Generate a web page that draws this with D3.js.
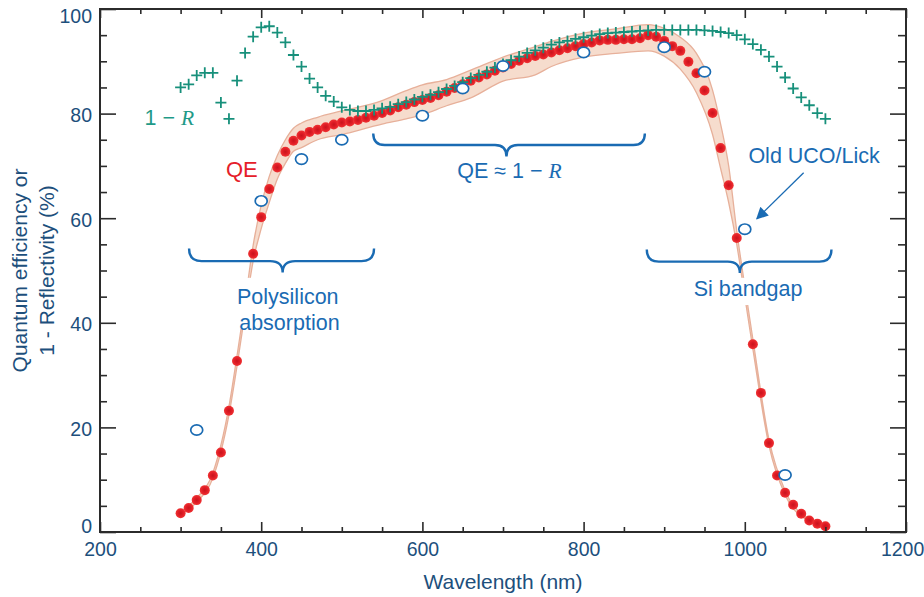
<!DOCTYPE html>
<html>
<head>
<meta charset="utf-8">
<script src="https://cdn.jsdelivr.net/npm/d3@7"></script>
<style>
  body { margin: 0; background: #fff; }
  svg { display: block; }
  text { font-family: "Liberation Sans", Arial, sans-serif; }
</style>
</head>
<body>
<div id="chart"></div>
<script>
// Wavelength grid for the QE and 1-R measurements (nm)
var wavelengths = d3.range(300, 1101, 10);

// Measured quantum efficiency (%), one per wavelength
var qeValues = [
    3.6, 4.6, 6.1, 8.0, 10.8, 15.2, 23.2, 32.7, 43.0, 53.2,
    60.2, 65.6, 69.7, 72.7, 74.8, 75.8, 76.5, 76.9, 77.4, 77.9,
    78.3, 78.5, 78.8, 79.2, 79.6, 80.1, 80.6, 81.2, 81.7, 82.2,
    82.6, 83.0, 83.5, 84.2, 84.9, 85.6, 86.3, 86.9, 87.5, 88.2,
    88.8, 89.5, 90.1, 90.6, 91.0, 91.3, 91.7, 92.1, 92.5, 92.9,
    93.3, 93.6, 94.0, 94.1, 94.1, 94.2, 94.2, 94.4, 95.0, 94.7,
    93.9, 92.9, 92.0, 89.9, 87.7, 84.4, 80.1, 73.4, 66.3, 56.2,
    46.0, 35.9, 26.6, 17.0, 10.8, 7.5, 5.2, 3.5, 2.2, 1.6,
    1.1
];

// 1 - reflectivity (%), one per wavelength
var oneMinusR = [
    85.0, 85.6, 87.3, 87.8, 87.8, 82.1, 79.0, 86.3, 91.6, 94.7,
    96.5, 96.7, 95.5, 93.6, 91.2, 89.0, 86.7, 85.0, 83.4, 82.3,
    81.2, 80.7, 80.5, 80.5, 80.7, 81.0, 81.3, 81.8, 82.2, 82.7,
    83.2, 83.6, 84.1, 84.7, 85.3, 86.0, 86.8, 87.4, 88.0, 88.8,
    89.5, 90.2, 90.9, 91.6, 92.1, 92.6, 93.2, 93.6, 93.9, 94.3,
    94.6, 94.9, 95.2, 95.4, 95.5, 95.6, 95.7, 95.8, 95.9, 96.0,
    96.0, 96.0, 96.0, 96.0, 96.0, 95.9, 95.8, 95.6, 95.4, 95.0,
    94.2, 93.3, 92.2, 90.9, 89.0, 86.9, 84.8, 83.1, 81.6, 80.1,
    79.0
];

// Uncertainty band around the QE curve
var bandWavelengths = [300, 320, 340, 360, 370, 380, 390, 400, 410, 420, 430, 440, 450, 470, 500, 550, 580, 600, 630, 660, 700, 740, 760, 800, 840, 880, 900, 920, 940, 960, 970, 980, 990, 1000, 1010, 1030, 1050, 1080, 1100];
var bandUpper = [3.9, 6.5, 11.3, 24.0, 33.7, 44.0, 54.8, 62.5, 68.0, 72.0, 75.0, 77.2, 78.2, 79.3, 80.5, 82.5, 84.4, 85.5, 86.5, 88.3, 90.8, 92.8, 93.8, 95.4, 96.2, 97.0, 96.3, 94.6, 91.5, 84.5, 78.0, 70.0, 57.6, 47.0, 36.9, 17.7, 7.9, 2.5, 1.3];
var bandLower = [3.3, 5.7, 10.3, 22.4, 31.7, 42.0, 51.8, 58.0, 63.0, 67.5, 70.5, 72.8, 73.5, 75.0, 76.0, 78.0, 79.0, 79.8, 81.5, 83.0, 86.2, 87.4, 89.0, 90.8, 91.5, 92.0, 91.0, 88.5, 84.0, 76.0, 69.5, 63.0, 55.0, 45.0, 35.0, 16.5, 7.1, 2.0, 0.9];

// Old UCO/Lick measurements
var oldWavelengths = [320, 400, 450, 500, 600, 650, 700, 800, 900, 950, 1000, 1050];
var oldValues = [19.5, 63.3, 71.3, 75.0, 79.6, 84.8, 89.1, 91.7, 92.7, 88.0, 57.9, 10.9];

// Axis ticks
var xMajorTicks = [200, 400, 600, 800, 1000, 1200];
var xMinorTicks = d3.range(250, 1200, 50).filter(function(d) { return d % 200 !== 0; });
var yMajorTicks = [0, 20, 40, 60, 80, 100];
var yMinorTicks = d3.range(5, 100, 5).filter(function(d) { return d % 20 !== 0; });

var width = 924, height = 597;
var margin = {top: 9, right: 18, bottom: 65, left: 100};

var svg = d3.select('#chart').append('svg')
    .attr('width', width)
    .attr('height', height);

var x = d3.scaleLinear().domain([200, 1200]).range([margin.left, width - margin.right]);
var y = d3.scaleLinear().domain([0, 100]).range([height - margin.bottom, margin.top]);

var blue = '#1a6bb3';
var navy = '#1d4f7c';
var red = '#e5202a';
var teal = '#17907b';

var defs = svg.append('defs');
var grad = defs.append('radialGradient').attr('id', 'dotGrad');
grad.append('stop').attr('offset', '0%').attr('stop-color', '#c8141c');
grad.append('stop').attr('offset', '55%').attr('stop-color', '#e11d26');
grad.append('stop').attr('offset', '100%').attr('stop-color', '#ef3434');

// Band around the QE points
var bandData = bandWavelengths.map(function(w, i) {
    return {w: w, hi: bandUpper[i], lo: bandLower[i]};
});
var area = d3.area()
    .x(function(d) { return x(d.w); })
    .y0(function(d) { return y(d.lo); })
    .y1(function(d) { return y(d.hi); })
    .curve(d3.curveMonotoneX);

svg.append('path')
    .datum(bandData)
    .attr('d', area)
    .attr('fill', '#f6dccd')
    .attr('stroke', '#e7b09a')
    .attr('stroke-width', 1.3);

// QE points
svg.append('g').selectAll('circle')
    .data(wavelengths)
    .enter()
    .append('circle')
    .attr('cx', function(d) { return x(d); })
    .attr('cy', function(d, i) { return y(qeValues[i]); })
    .attr('r', 5)
    .attr('fill', 'url(#dotGrad)');

// 1 - R markers
svg.append('g').selectAll('path')
    .data(wavelengths)
    .enter()
    .append('path')
    .attr('transform', function(d, i) {
        return 'translate(' + x(d) + ',' + y(oneMinusR[i]) + ')';
    })
    .attr('d', 'M-5.5,0H5.5M0,-5.5V5.5')
    .attr('stroke', teal)
    .attr('stroke-width', 1.8)
    .attr('fill', 'none');

// Old UCO/Lick points
svg.append('g').selectAll('ellipse')
    .data(oldWavelengths)
    .enter()
    .append('ellipse')
    .attr('cx', function(d) { return x(d); })
    .attr('cy', function(d, i) { return y(oldValues[i]); })
    .attr('rx', 6)
    .attr('ry', 5.2)
    .attr('fill', '#fff')
    .attr('stroke', blue)
    .attr('stroke-width', 1.7);

// Braces
function brace(w0, w1, wTip, vEnd, vMid, vTip) {
    var x0 = x(w0), x1 = x(w1), xt = x(wTip);
    var ye = y(vEnd), ym = y(vMid), yt = y(vTip);
    var r = ym - ye;
    return 'M' + x0 + ',' + ye +
        'Q' + x0 + ',' + ym + ' ' + (x0 + r) + ',' + ym +
        'L' + (xt - r) + ',' + ym +
        'Q' + xt + ',' + ym + ' ' + xt + ',' + yt +
        'Q' + xt + ',' + ym + ' ' + (xt + r) + ',' + ym +
        'L' + (x1 - r) + ',' + ym +
        'Q' + x1 + ',' + ym + ' ' + x1 + ',' + ye;
}

var annot = svg.append('g');
[[310.5, 540, 426.6, 54.2, 51.8, 49.6],
 [539, 876, 704.3, 76.2, 74.0, 71.8],
 [878.4, 1107.5, 993.8, 54.0, 51.7, 49.5]].forEach(function(b) {
    annot.append('path')
        .attr('d', brace.apply(null, b))
        .attr('fill', 'none')
        .attr('stroke', blue)
        .attr('stroke-width', 2.4);
});

// Text boxes that mask the curve
annot.append('rect')
    .attr('x', x(370)).attr('y', y(48.6))
    .attr('width', x(505) - x(370)).attr('height', y(38.8) - y(48.6))
    .attr('fill', '#fff');
annot.append('rect')
    .attr('x', x(935)).attr('y', y(48.6))
    .attr('width', x(1070) - x(935)).attr('height', y(43.4) - y(48.6))
    .attr('fill', '#fff');

var fs = '21.5px';
annot.append('text')
    .attr('x', x(433)).attr('y', y(45))
    .attr('text-anchor', 'middle').attr('dy', '0.35em')
    .attr('font-size', fs).attr('fill', blue)
    .text('Polysilicon');
annot.append('text')
    .attr('x', x(435)).attr('y', y(40.1))
    .attr('text-anchor', 'middle').attr('dy', '0.35em')
    .attr('font-size', fs).attr('fill', blue)
    .text('absorption');
annot.append('text')
    .attr('x', x(1004)).attr('y', y(46.5))
    .attr('text-anchor', 'middle').attr('dy', '0.35em')
    .attr('font-size', fs).attr('fill', blue)
    .text('Si bandgap');
annot.append('text')
    .attr('x', x(1086)).attr('y', y(71.9))
    .attr('text-anchor', 'middle').attr('dy', '0.35em')
    .attr('font-size', fs).attr('fill', blue)
    .text('Old UCO/Lick');

var qeText = annot.append('text')
    .attr('x', x(708)).attr('y', y(69.1))
    .attr('text-anchor', 'middle').attr('dy', '0.35em')
    .attr('font-size', fs).attr('fill', blue);
qeText.append('tspan').text('QE \u2248 1 \u2212 ');
qeText.append('tspan')
    .attr('font-family', '"Liberation Serif", "Times New Roman", serif')
    .attr('font-style', 'italic')
    .text('R');

var rText = annot.append('text')
    .attr('x', x(286)).attr('y', y(79.2))
    .attr('text-anchor', 'middle').attr('dy', '0.35em')
    .attr('font-size', fs).attr('fill', '#1f9a88');
rText.append('tspan').text('1 \u2212 ');
rText.append('tspan')
    .attr('font-family', '"Liberation Serif", "Times New Roman", serif')
    .attr('font-style', 'italic')
    .text('R');

annot.append('text')
    .attr('x', x(376)).attr('y', y(69.4))
    .attr('text-anchor', 'middle').attr('dy', '0.35em')
    .attr('font-size', '22px').attr('fill', red)
    .text('QE');

// Arrow to the Old UCO/Lick point
defs.append('marker')
    .attr('id', 'arrow')
    .attr('viewBox', '0 0 10 10')
    .attr('refX', 9).attr('refY', 5)
    .attr('markerWidth', 16).attr('markerHeight', 12)
    .attr('markerUnits', 'userSpaceOnUse')
    .attr('orient', 'auto')
    .append('path')
    .attr('d', 'M0,0L10,5L0,10Z')
    .attr('fill', blue);

annot.append('line')
    .attr('x1', x(1073)).attr('y1', y(68.7))
    .attr('x2', x(1015)).attr('y2', y(59.9))
    .attr('stroke', blue)
    .attr('stroke-width', 1.3)
    .attr('marker-end', 'url(#arrow)');

// Frame and ticks
var axisColor = '#2b2b2b';
var bottomY = y(0), topY = y(100), leftX = x(200), rightX = x(1200);

function styleAxis(g) {
    g.select('.domain').remove();
    g.selectAll('line').attr('stroke', axisColor).attr('stroke-width', 1.6);
}

svg.append('g')
    .attr('transform', 'translate(0,' + bottomY + ')')
    .call(d3.axisBottom(x).tickValues(xMinorTicks).tickSize(-5).tickFormat(''))
    .call(styleAxis);
var xAxis = svg.append('g')
    .attr('transform', 'translate(0,' + bottomY + ')')
    .call(d3.axisBottom(x).tickValues(xMajorTicks).tickSize(-10).tickPadding(10).tickFormat(d3.format('d')))
    .call(styleAxis);
xAxis.selectAll('text')
    .attr('font-size', '19.5px')
    .attr('font-family', '"Liberation Sans Narrow", "Liberation Sans", Arial, sans-serif')
    .attr('fill', navy)
    .attr('dx', function(d) { return d === 1200 ? '-0.2em' : 0; });

svg.append('g')
    .attr('transform', 'translate(0,' + topY + ')')
    .call(d3.axisTop(x).tickValues(xMinorTicks).tickSize(-5).tickFormat(''))
    .call(styleAxis);
svg.append('g')
    .attr('transform', 'translate(0,' + topY + ')')
    .call(d3.axisTop(x).tickValues(xMajorTicks).tickSize(-9).tickFormat(''))
    .call(styleAxis);

svg.append('g')
    .attr('transform', 'translate(' + leftX + ',0)')
    .call(d3.axisLeft(y).tickValues(yMinorTicks).tickSize(-7).tickFormat(''))
    .call(styleAxis);
var yAxis = svg.append('g')
    .attr('transform', 'translate(' + leftX + ',0)')
    .call(d3.axisLeft(y).tickValues(yMajorTicks).tickSize(-16).tickPadding(8).tickFormat(d3.format('d')))
    .call(styleAxis);
yAxis.selectAll('text')
    .attr('font-size', '19.5px')
    .attr('font-family', '"Liberation Sans Narrow", "Liberation Sans", Arial, sans-serif')
    .attr('fill', navy)
    .attr('dy', function(d) { return d === 100 ? '0.68em' : (d === 0 ? '0.05em' : '0.4em'); });

svg.append('g')
    .attr('transform', 'translate(' + rightX + ',0)')
    .call(d3.axisRight(y).tickValues(yMinorTicks).tickSize(-8).tickFormat(''))
    .call(styleAxis);
svg.append('g')
    .attr('transform', 'translate(' + rightX + ',0)')
    .call(d3.axisRight(y).tickValues(yMajorTicks).tickSize(-16).tickFormat(''))
    .call(styleAxis);

svg.append('rect')
    .attr('x', leftX).attr('y', topY)
    .attr('width', rightX - leftX).attr('height', bottomY - topY)
    .attr('fill', 'none')
    .attr('stroke', axisColor)
    .attr('stroke-width', 2);

// Axis titles
svg.append('text')
    .attr('x', (leftX + rightX) / 2).attr('y', 582)
    .attr('text-anchor', 'middle').attr('dy', '0.35em')
    .attr('font-size', '21px').attr('fill', navy)
    .text('Wavelength (nm)');

var midY = (topY + bottomY) / 2;
svg.append('text')
    .attr('transform', 'translate(20,' + midY + ') rotate(-90)')
    .attr('text-anchor', 'middle').attr('dy', '0.35em')
    .attr('font-size', '21px').attr('fill', navy)
    .text('Quantum efficiency or');
svg.append('text')
    .attr('transform', 'translate(47,' + midY + ') rotate(-90)')
    .attr('text-anchor', 'middle').attr('dy', '0.35em')
    .attr('font-size', '21px').attr('fill', navy)
    .text('1 - Reflectivity (%)');
</script>
</body>
</html>
